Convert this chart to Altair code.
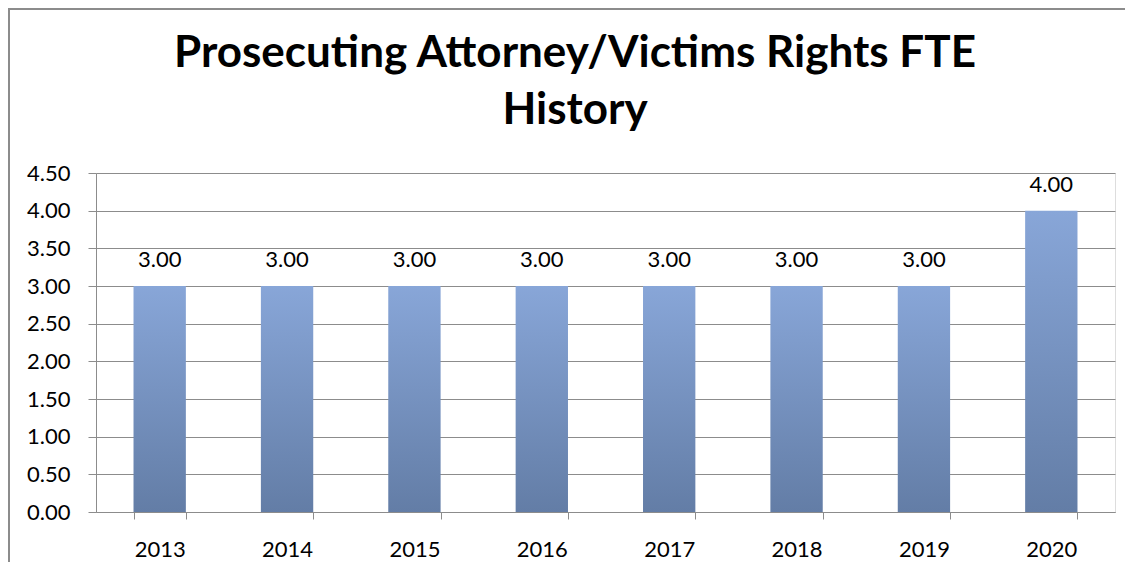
import altair as alt
import pandas as pd

years = ["2013", "2014", "2015", "2016", "2017", "2018", "2019", "2020"]
fte = [3.0, 3.0, 3.0, 3.0, 3.0, 3.0, 3.0, 4.0]
title_lines = ["Prosecuting Attorney/Victims Rights FTE", "History"]
y_ticks = [0.0, 0.5, 1.0, 1.5, 2.0, 2.5, 3.0, 3.5, 4.0, 4.5]

df = pd.DataFrame({"year": years, "fte": fte})

W, H = 1019, 339
PL, PT, PR, PB = 88, 165, 10, 50
FONT = "Lato"
GRAY = "#8c8c8c"

x_enc = alt.X("year:N", sort=years, title=None,
              scale=alt.Scale(paddingInner=0.589, paddingOuter=0.2945),
              axis=alt.Axis(labelAngle=0, tickBand="extent", tickSize=7,
                            labelPadding=20, labelFontSize=22, labelFont=FONT,
                            labelColor="#000000", domainColor=GRAY,
                            tickColor=GRAY, grid=False))
y_enc = alt.Y("fte:Q", title=None,
              scale=alt.Scale(domain=[0, 4.5], nice=False),
              axis=alt.Axis(values=y_ticks, format=".2f", tickSize=8,
                            labelPadding=18, labelFontSize=22, labelFont=FONT,
                            labelColor="#000000", domainColor=GRAY,
                            labelOverlap=False,
                            tickColor=GRAY, gridColor=GRAY, grid=True))

base = alt.Chart(df).encode(x=x_enc, y=y_enc)

bars = base.mark_bar(
    color=alt.Gradient(
        gradient="linear", x1=0, y1=0, x2=0, y2=1,
        stops=[alt.GradientStop(color="#88A6D8", offset=0),
               alt.GradientStop(color="#637DA6", offset=1)]
    )
)

labels = base.mark_text(
    baseline="alphabetic", dy=-19, fontSize=22, font=FONT, color="#000000"
).encode(text=alt.Text("fte:Q", format=".2f"))

one = alt.Data(values=[{"a": 1}])
border_left = alt.Chart(one).mark_rule(color=GRAY, strokeWidth=2).encode(
    x=alt.value(-PL + 1), y=alt.value(-PT), y2=alt.value(H + PB))
border_top = alt.Chart(one).mark_rule(color=GRAY, strokeWidth=2).encode(
    x=alt.value(-PL), x2=alt.value(W + PR), y=alt.value(-PT + 1))

t1 = alt.Chart(one).mark_text(
    text=title_lines[0], fontSize=44, font=FONT, fontWeight="bold",
    align="center", baseline="alphabetic", color="#000000"
).encode(x=alt.value(479), y=alt.value(-106))
t2 = alt.Chart(one).mark_text(
    text=title_lines[1], fontSize=44, font=FONT, fontWeight="bold",
    align="center", baseline="alphabetic", color="#000000"
).encode(x=alt.value(479), y=alt.value(-49))

chart = alt.layer(bars, labels, border_left, border_top, t1, t2).properties(
    width=W, height=H,
    autosize=alt.AutoSizeParams(type="none"),
    padding={"left": PL, "top": PT, "right": PR, "bottom": PB},
).configure_view(strokeWidth=0).configure(background="white")

chart.save("out.html", embed_options={"renderer": "svg", "actions": False})
